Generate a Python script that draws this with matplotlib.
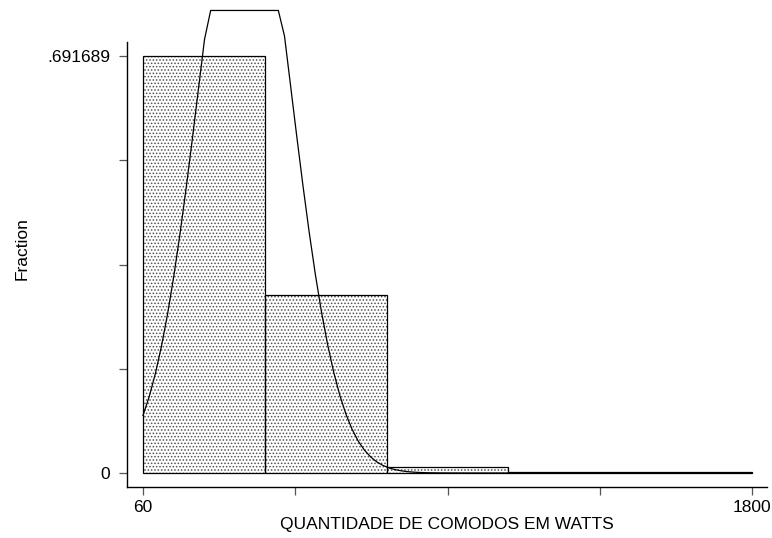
import numpy as np
import matplotlib
matplotlib.use("Agg")
import matplotlib.pyplot as plt

plt.rcParams['font.family'] = ['Liberation Sans', 'DejaVu Sans']
plt.rcParams['hatch.linewidth'] = 0.7

# Data
bin_edges = [60, 408, 756, 1104, 1452, 1800]
fractions = [0.691689, 0.294906, 0.010724, 0.001340, 0.001340]
xtick_values = [60, 495, 930, 1365, 1800]
xtick_labels = ["60", "", "", "", "1800"]
ytick_values = [0, 0.691689 / 4, 0.691689 / 2, 0.691689 * 3 / 4, 0.691689]
ytick_labels = ["0", "", "", "", ".691689"]
normal_mean = 350.6
normal_sd = 132.8
xlabel = "QUANTIDADE DE COMODOS EM WATTS"
ylabel = "Fraction"

fig = plt.figure(figsize=(7.72, 5.38), dpi=100)
ax = fig.add_axes([127 / 772, 51 / 538, 640 / 772, 477 / 538])

lefts = np.array(bin_edges[:-1])
widths = np.diff(bin_edges)

# dotted fill
ax.bar(lefts, fractions, width=widths, align='edge', facecolor='white',
       edgecolor='#505050', hatch='.....', linewidth=0, zorder=1)
# outlines
ax.bar(lefts, fractions, width=widths, align='edge', fill=False,
       edgecolor='black', linewidth=0.9, zorder=2)

scale_x = 609 / 1740
scale_y = 417 / 0.691689
ytop = 463 / scale_y
ax.set_xlim(60 - 16 / scale_x, 1800 + 15 / scale_x)
ax.set_ylim(-14 / scale_y, ytop)

# normal density overlay scaled to fraction per bin (clipped flat at plot top)
bw = widths[0]
xs = np.linspace(bin_edges[0], bin_edges[-1], 100)
ys = bw * np.exp(-0.5 * ((xs - normal_mean) / normal_sd) ** 2) / (normal_sd * np.sqrt(2 * np.pi))
ax.plot(xs, np.minimum(ys, ytop * 0.999), color='black', linewidth=0.9, zorder=3,
        clip_on=False)

for s in ['top', 'right']:
    ax.spines[s].set_visible(False)
ax.spines['left'].set_bounds(-14 / scale_y, 431 / scale_y)
ax.spines['left'].set_linewidth(1.0)
ax.spines['bottom'].set_linewidth(1.0)

ax.set_xticks(xtick_values)
ax.set_xticklabels(xtick_labels)
ax.set_yticks(ytick_values)
ax.set_yticklabels(ytick_labels)
ax.tick_params(axis='both', length=6, width=0.9, color='#555555',
               labelsize=12.5, labelcolor='black')
ax.tick_params(axis='x', pad=3)
ax.tick_params(axis='y', pad=6)

ax.set_xlabel(xlabel, fontsize=12.5, labelpad=2)
ax.set_ylabel(ylabel, fontsize=12.5, labelpad=13)

fig.savefig("out.png", dpi=100)
